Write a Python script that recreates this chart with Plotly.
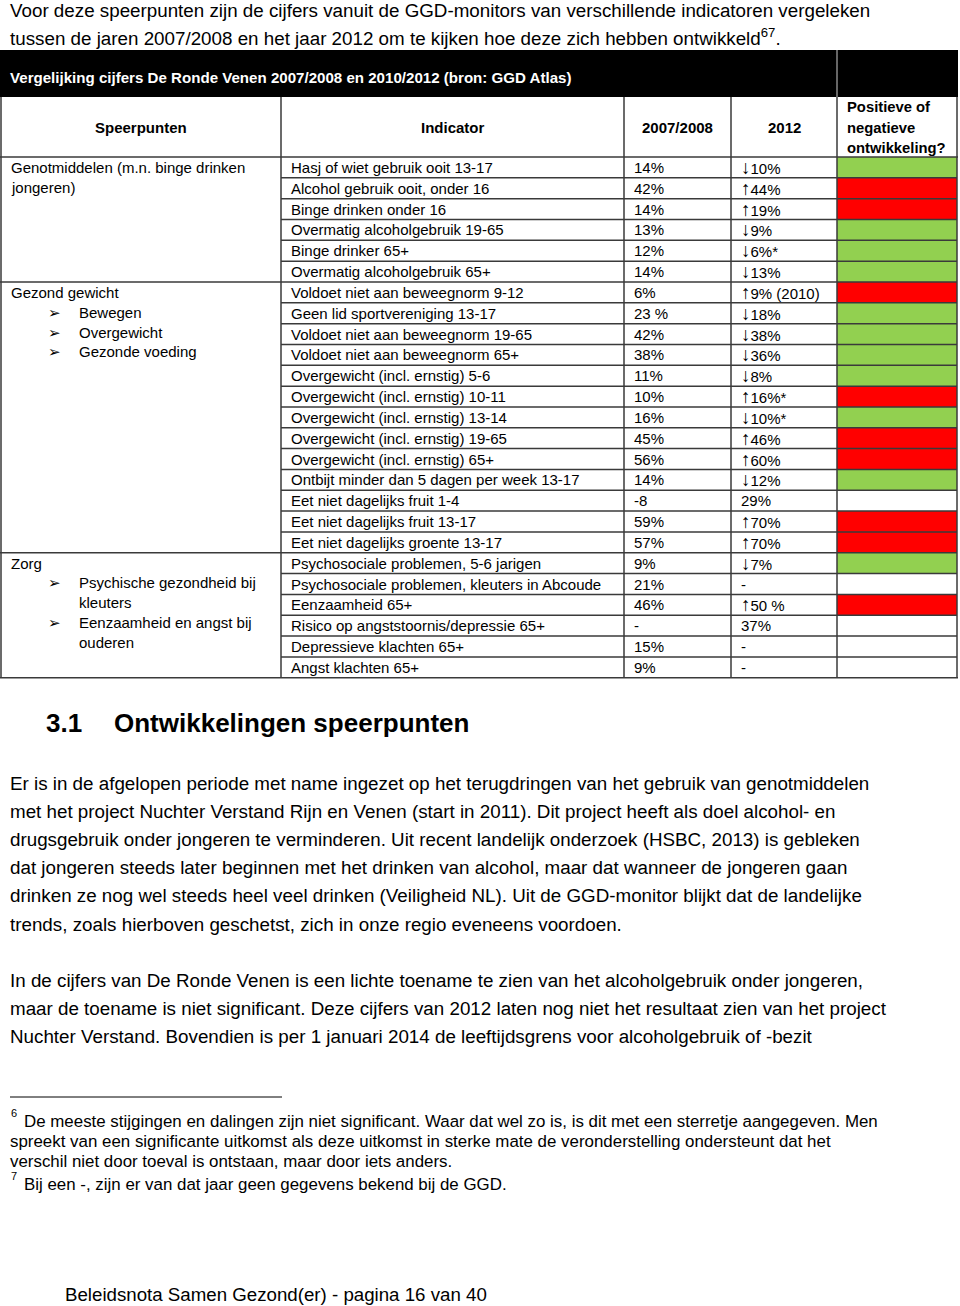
import plotly.graph_objects as go

# --- data ---
indicators = [
    "Hasj of wiet gebruik ooit 13-17",
    "Alcohol gebruik ooit, onder 16",
    "Binge drinken onder 16",
    "Overmatig alcoholgebruik 19-65",
    "Binge drinker 65+",
    "Overmatig alcoholgebruik 65+",
    "Voldoet niet aan beweegnorm 9-12",
    "Geen lid sportvereniging 13-17",
    "Voldoet niet aan beweegnorm 19-65",
    "Voldoet niet aan beweegnorm 65+",
    "Overgewicht (incl. ernstig) 5-6",
    "Overgewicht (incl. ernstig) 10-11",
    "Overgewicht (incl. ernstig) 13-14",
    "Overgewicht (incl. ernstig) 19-65",
    "Overgewicht (incl. ernstig) 65+",
    "Ontbijt minder dan 5 dagen per week 13-17",
    "Eet niet dagelijks fruit 1-4",
    "Eet niet dagelijks fruit 13-17",
    "Eet niet dagelijks groente 13-17",
    "Psychosociale problemen, 5-6 jarigen",
    "Psychosociale problemen, kleuters in Abcoude",
    "Eenzaamheid 65+",
    "Risico op angststoornis/depressie 65+",
    "Depressieve klachten 65+",
    "Angst klachten 65+",
]
values_2007 = ["14%", "42%", "14%", "13%", "12%", "14%", "6%", "23 %", "42%", "38%",
               "11%", "10%", "16%", "45%", "56%", "14%", "-8", "59%", "57%", "9%",
               "21%", "46%", "-", "15%", "9%"]
values_2012 = ["↓10%", "↑44%", "↑19%", "↓9%", "↓6%*", "↓13%", "↑9% (2010)", "↓18%", "↓38%", "↓36%",
               "↓8%", "↑16%*", "↓10%*", "↑46%", "↑60%", "↓12%", "29%", "↑70%", "↑70%", "↓7%",
               "-", "↑50 %", "37%", "-", "-"]
trend = ["pos", "neg", "neg", "pos", "pos", "pos", "neg", "pos", "pos", "pos",
         "pos", "neg", "pos", "neg", "neg", "pos", "", "neg", "neg", "pos",
         "", "neg", "", "", ""]

groups = [  # (first row, last row, text lines)
    (0, 5, [("Genotmiddelen (m.n. binge drinken", False), ("jongeren)", False)]),
    (6, 18, [("Gezond gewicht", False), ("Bewegen", True), ("Overgewicht", True), ("Gezonde voeding", True)]),
    (19, 24, [("Zorg", False), ("Psychische gezondheid bij", True), ("kleuters", None),
              ("Eenzaamheid en angst bij", True), ("ouderen", None)]),
]

intro_lines = [
    "Voor deze speerpunten zijn de cijfers vanuit de GGD-monitors van verschillende indicatoren vergeleken",
    "tussen de jaren 2007/2008 en het jaar 2012 om te kijken hoe deze zich hebben ontwikkeld<sup>67</sup>.",
]
para1 = [
    "Er is in de afgelopen periode met name ingezet op het terugdringen van het gebruik van genotmiddelen",
    "met het project Nuchter Verstand Rijn en Venen (start in 2011). Dit project heeft als doel alcohol- en",
    "drugsgebruik onder jongeren te verminderen. Uit recent landelijk onderzoek (HSBC, 2013) is gebleken",
    "dat jongeren steeds later beginnen met het drinken van alcohol, maar dat wanneer de jongeren gaan",
    "drinken ze nog wel steeds heel veel drinken (Veiligheid NL). Uit de GGD-monitor blijkt dat de landelijke",
    "trends, zoals hierboven geschetst, zich in onze regio eveneens voordoen.",
]
para2 = [
    "In de cijfers van De Ronde Venen is een lichte toename te zien van het alcoholgebruik onder jongeren,",
    "maar de toename is niet significant. Deze cijfers van 2012 laten nog niet het resultaat zien van het project",
    "Nuchter Verstand. Bovendien is per 1 januari 2014 de leeftijdsgrens voor alcoholgebruik of -bezit",
]
footnotes = [
    ("6", ["De meeste stijgingen en dalingen zijn niet significant. Waar dat wel zo is, is dit met een sterretje aangegeven. Men",
           "spreekt van een significante uitkomst als deze uitkomst in sterke mate de veronderstelling ondersteunt dat het",
           "verschil niet door toeval is ontstaan, maar door iets anders."]),
    ("7", ["Bij een -, zijn er van dat jaar geen gegevens bekend bij de GGD."]),
]
trend_colors = {"pos": "#92D050", "neg": "#FF0000", "": "white"}

FONT = "Liberation Sans, Arial, sans-serif"
cols = [1, 281, 624, 731, 837, 957]
top_band, head_top, data_top = 50, 97, 157
row_h = 20.83
data_bot = data_top + row_h * len(indicators)
line_col = "#3a3a3a"

fig = go.Figure()
shapes = []
ann = []


def text(x, y, s, size=15, bold=False, color="black", anchor="left"):
    if bold:
        s = "<b>" + s + "</b>"
    ann.append(dict(x=x, y=y, text=s, showarrow=False, xanchor=anchor, yanchor="middle",
                    borderpad=0, font=dict(family=FONT, size=size, color=color)))


def line(x0, y0, x1, y1, color=line_col, w=1.5):
    shapes.append(dict(type="line", x0=x0, y0=y0, x1=x1, y1=y1, line=dict(color=color, width=w)))


def arrows(s):
    # the arrows in the source are tall and thin
    for a in "↑↓":
        s = s.replace(a, '<span style="font-size:19px">' + a + "</span>")
    return s


# intro
for i, s in enumerate(intro_lines):
    text(9, 10 + i * 27, s, size=18.8)

# black title band
shapes.append(dict(type="rect", x0=0, x1=958, y0=top_band, y1=head_top, fillcolor="black", line=dict(width=0)))
line(cols[4], top_band, cols[4], head_top, color="#cccccc", w=1)
text(9, 77, "Vergelijking cijfers De Ronde Venen 2007/2008 en 2010/2012 (bron: GGD Atlas)", size=15.1,
     bold=True, color="white")

# trend colour cells
for i, t in enumerate(trend):
    y0 = data_top + i * row_h
    shapes.append(dict(type="rect", x0=cols[4], x1=cols[5], y0=y0, y1=y0 + row_h,
                       fillcolor=trend_colors[t], line=dict(width=0)))

# header
text((cols[0] + cols[1]) / 2, 127, "Speerpunten", size=15, bold=True, anchor="center")
text((cols[1] + cols[2]) / 2, 127, "Indicator", size=15, bold=True, anchor="center")
text((cols[2] + cols[3]) / 2, 127, "2007/2008", size=15, bold=True, anchor="center")
text((cols[3] + cols[4]) / 2, 127, "2012", size=15, bold=True, anchor="center")
for k, s in enumerate(["Positieve of", "negatieve", "ontwikkeling?"]):
    text(846, 107 + k * 20.5, s, size=14.8, bold=True)

# grid
for x in cols:
    line(x, head_top, x, data_bot)
line(0, data_top, 958, data_top)
line(0, data_bot, 958, data_bot)
for i in range(1, len(indicators)):
    y = data_top + i * row_h
    line(cols[1], y, cols[5], y)
for g0, g1, _ in groups[1:]:
    y = data_top + g0 * row_h
    line(0, y, cols[1], y)

# rows
for i in range(len(indicators)):
    yc = data_top + (i + 0.5) * row_h
    text(cols[1] + 9, yc, indicators[i])
    text(cols[2] + 9, yc, values_2007[i])
    text(cols[3] + 9, yc, arrows(values_2012[i]))

# speerpunten
for g0, g1, lines in groups:
    y = data_top + (g0 + 0.5) * row_h
    for s, bullet in lines:
        if bullet is None:
            text(78, y, s)
        elif bullet:
            text(47, y, "➢", size=15)
            text(78, y, s)
        else:
            text(10, y, s)
        y += 19.8

# heading
text(45, 723, "3.1", size=26, bold=True)
text(113, 723, "Ontwikkelingen speerpunten", size=26, bold=True)

for i, s in enumerate(para1):
    text(9, 783 + i * 28.2, s, size=18.8)
for i, s in enumerate(para2):
    text(9, 980 + i * 28.2, s, size=18.8)

# footnotes
line(10, 1097, 282, 1097, color="black", w=1)
y = 1121
for num, lines in footnotes:
    text(10, y - 8, num, size=11)
    for j, s in enumerate(lines):
        text(23 if j == 0 else 9, y, s, size=16.9)
        y += 20.2
    y += 2.5

text(64, 1294, "Beleidsnota Samen Gezond(er) - pagina 16 van 40", size=18.7)

fig.update_layout(
    width=960, height=1306,
    margin=dict(l=0, r=0, t=0, b=0),
    paper_bgcolor="white", plot_bgcolor="white",
    xaxis=dict(range=[0, 960], visible=False, fixedrange=True),
    yaxis=dict(range=[1306, 0], visible=False, fixedrange=True),
    shapes=shapes, annotations=ann, showlegend=False,
)

fig.write_html("out.html", config={"displayModeBar": False},
               post_script="document.body.style.margin='0';")
